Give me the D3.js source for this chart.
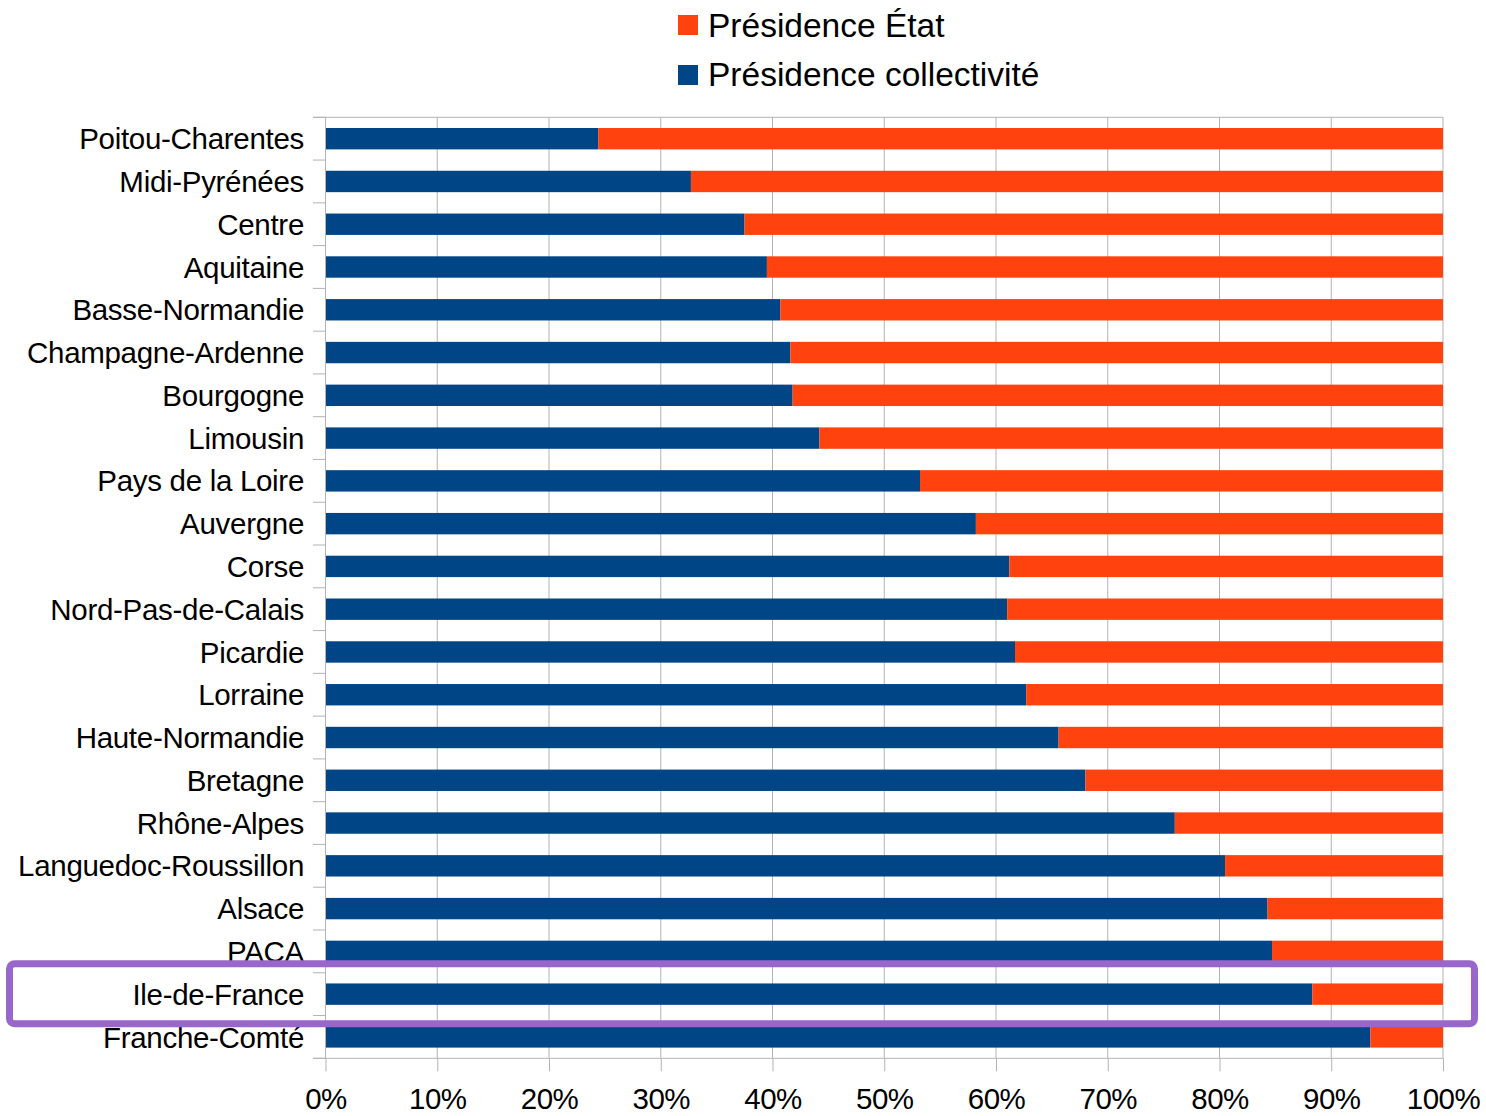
<!DOCTYPE html>
<html>
<head>
<meta charset="utf-8">
<script src="https://cdn.jsdelivr.net/npm/d3@7"></script>
<style>
  body { margin: 0; background: #fff; }
  svg text { font-family: "Liberation Sans", Arial, sans-serif; fill: #000; }
</style>
</head>
<body>
<div id="chart"></div>
<script>
// regions, top to bottom
const regions = ["Poitou-Charentes", "Midi-Pyrénées", "Centre", "Aquitaine", "Basse-Normandie",
  "Champagne-Ardenne", "Bourgogne", "Limousin", "Pays de la Loire", "Auvergne", "Corse",
  "Nord-Pas-de-Calais", "Picardie", "Lorraine", "Haute-Normandie", "Bretagne", "Rhône-Alpes",
  "Languedoc-Roussillon", "Alsace", "PACA", "Ile-de-France", "Franche-Comté"];
// % presidence collectivite
const collectivite = [24.4, 32.7, 37.5, 39.5, 40.7, 41.6, 41.8, 44.2, 53.2, 58.2, 61.2,
  61.0, 61.7, 62.7, 65.6, 68.0, 76.0, 80.5, 84.3, 84.7, 88.3, 93.5];
// % presidence etat
const etat = [75.6, 67.3, 62.5, 60.5, 59.3, 58.4, 58.2, 55.8, 46.8, 41.8, 38.8,
  39.0, 38.3, 37.3, 34.4, 32.0, 24.0, 19.5, 15.7, 15.3, 11.7, 6.5];
const seriesNames = ["Présidence État", "Présidence collectivité"];
const xTicks = [0, 10, 20, 30, 40, 50, 60, 70, 80, 90, 100];
const highlighted = "Ile-de-France";

const colBlue = '#004586',
    colOrange = '#ff420e',
    gridColor = '#b3b3b3',
    highlightColor = '#9966cc';

const width = 1486, height = 1116;
const plotLeft = 325.5, plotRight = 1443, plotTop = 117.3, plotBottom = 1058.3;

const svg = d3.select('#chart').append('svg')
    .attr('width', width)
    .attr('height', height);

const x = d3.scaleLinear().domain([0, 100]).range([plotLeft, plotRight]);
const y = d3.scaleBand().domain(regions).range([plotTop, plotBottom])
    .paddingInner(0.5).paddingOuter(0.25);

// vertical gridlines
svg.append('g').selectAll('line')
    .data(xTicks.slice(1))
    .enter().append('line')
    .attr('x1', d => x(d)).attr('x2', d => x(d))
    .attr('y1', plotTop).attr('y2', plotBottom)
    .attr('stroke', gridColor).attr('stroke-width', 1);

// top line
svg.append('line')
    .attr('x1', plotLeft - 12.5).attr('x2', plotRight)
    .attr('y1', plotTop).attr('y2', plotTop)
    .attr('stroke', gridColor);

// stacked bars
const rows = regions.map((r, i) => ({ region: r, coll: collectivite[i], etat: etat[i] }));
const bars = svg.append('g');
bars.selectAll('rect.coll')
    .data(rows).enter().append('rect')
    .attr('class', 'coll')
    .attr('x', x(0))
    .attr('y', d => y(d.region))
    .attr('width', d => x(d.coll) - x(0))
    .attr('height', y.bandwidth())
    .attr('fill', colBlue);
bars.selectAll('rect.etat')
    .data(rows).enter().append('rect')
    .attr('class', 'etat')
    .attr('x', d => x(d.coll))
    .attr('y', d => y(d.region))
    .attr('width', d => x(d.coll + d.etat) - x(d.coll))
    .attr('height', y.bandwidth())
    .attr('fill', colOrange);

// x axis
const xAxis = svg.append('g')
    .attr('transform', 'translate(0,' + plotBottom + ')')
    .call(d3.axisBottom(x).tickValues(xTicks).tickFormat(d => d + '%')
        .tickSizeInner(13).tickSizeOuter(0).tickPadding(17));
xAxis.select('.domain').remove();
xAxis.selectAll('line').attr('stroke', gridColor);
xAxis.selectAll('text')
    .style('font-size', '29.5px')
    .style('letter-spacing', '-0.5px')
    .attr('dy', '0.71em');
svg.append('line')
    .attr('x1', plotLeft - 12.5).attr('x2', plotRight)
    .attr('y1', plotBottom).attr('y2', plotBottom)
    .attr('stroke', gridColor);

// y axis with ticks between categories
svg.append('line')
    .attr('x1', plotLeft).attr('x2', plotLeft)
    .attr('y1', plotTop).attr('y2', plotBottom)
    .attr('stroke', gridColor);
const boundaries = d3.range(regions.length + 1).map(i => plotTop + i * (plotBottom - plotTop) / regions.length);
svg.append('g').selectAll('line')
    .data(boundaries).enter().append('line')
    .attr('x1', plotLeft - 12.5).attr('x2', plotLeft)
    .attr('y1', d => d).attr('y2', d => d)
    .attr('stroke', gridColor);
const yAxis = svg.append('g')
    .attr('transform', 'translate(' + plotLeft + ',0)')
    .call(d3.axisLeft(y).tickSize(0).tickPadding(21.5));
yAxis.select('.domain').remove();
yAxis.selectAll('text')
    .style('font-size', '29.5px')
    .style('letter-spacing', '-0.3px')
    .attr('dy', '0.36em');

// legend
const legend = svg.append('g');
const legendColors = [colOrange, colBlue];
seriesNames.forEach((name, i) => {
    legend.append('rect')
        .attr('x', 678).attr('y', 15 + i * 50)
        .attr('width', 20).attr('height', 20)
        .attr('fill', legendColors[i]);
    legend.append('text')
        .attr('x', 708).attr('y', 37 + i * 49)
        .style('font-size', '33.5px')
        .text(name);
});

// highlight box
svg.append('rect')
    .attr('x', 9.5)
    .attr('y', y(highlighted) + y.bandwidth() / 2 - 30.5)
    .attr('width', 1465)
    .attr('height', 60)
    .attr('rx', 5)
    .attr('fill', 'none')
    .attr('stroke', highlightColor)
    .attr('stroke-width', 7);
</script>
</body>
</html>
